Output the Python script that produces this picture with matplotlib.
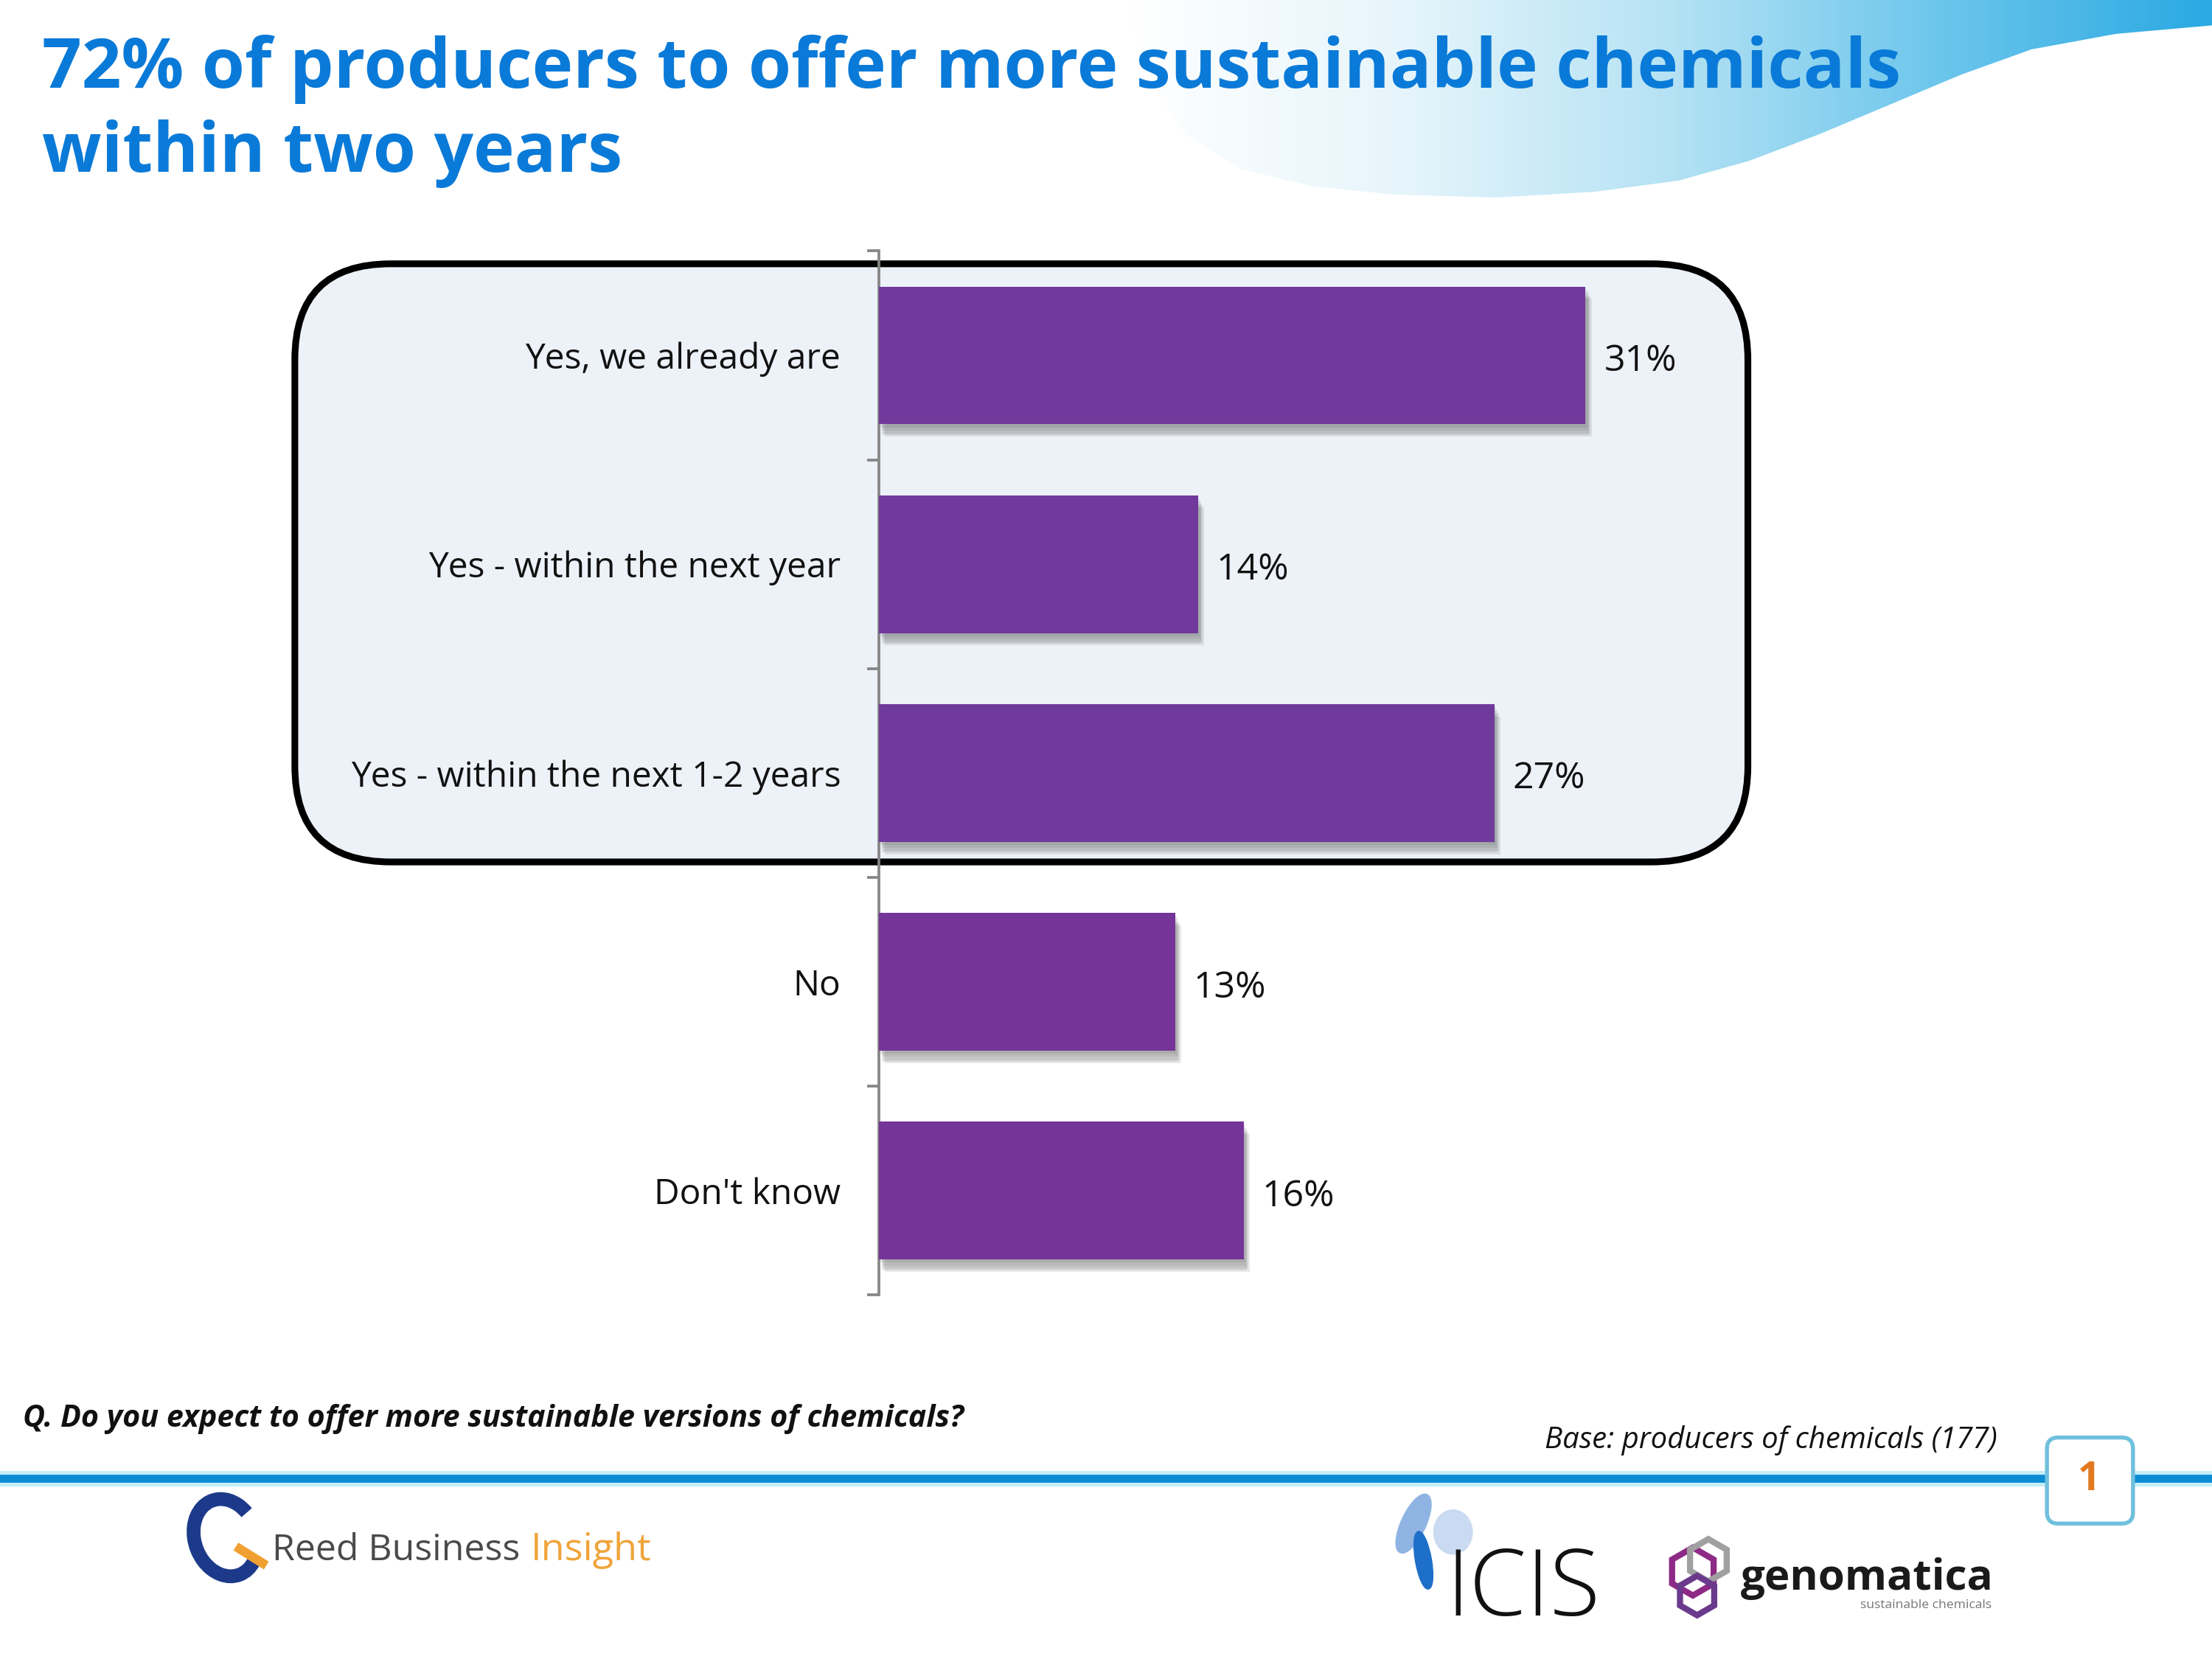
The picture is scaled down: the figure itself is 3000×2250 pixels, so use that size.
import numpy as np
import matplotlib.pyplot as plt
import matplotlib.patheffects as pe
from matplotlib.patches import FancyBboxPatch, Polygon, Ellipse, RegularPolygon, Arc
from matplotlib.colors import LinearSegmentedColormap

# survey answers (share of producers)
categories = ["Yes, we already are",
              "Yes - within the next year",
              "Yes - within the next 1-2 years",
              "No",
              "Don't know"]
percentages = [31, 14, 27, 13, 16]
bar_colors = ["#6f3a9b", "#6f3a9b", "#6f3a9b", "#743498", "#743498"]

title_lines = ["72% of producers to offer more sustainable chemicals",
               "within two years"]
question = "Q. Do you expect to offer more sustainable versions of chemicals?"
base_note = "Base: producers of chemicals (177)"
page_no = "1"

plt.rcParams['font.family'] = ['Open Sans', 'DejaVu Sans']

fig = plt.figure(figsize=(10, 7.5), dpi=300)

# slide background, drawn in slide pixel units (1568 x 1176)
bg = fig.add_axes([0, 0, 1, 1], zorder=0)
bg.axis('off')

# blue swoosh top right
sw_x = [800, 1568, 1568, 1500, 1440, 1390, 1340, 1290, 1240, 1190, 1130,
        1060, 990, 930, 880, 840, 810]
sw_y = [0, 0, 18, 24, 35, 53, 74, 95, 114, 128, 136, 140, 138, 132, 120, 95, 50]
swoosh = Polygon(np.column_stack([sw_x, sw_y]), closed=True,
                 facecolor='none', edgecolor='none')
bg.add_patch(swoosh)
grad = np.tile(np.linspace(0, 1, 400), (10, 1))
sw_cmap = LinearSegmentedColormap.from_list(
    'sw', ['#ffffff', '#e6f5fb', '#b5e2f4', '#6cc6ec', '#2aa9e3'])
im = bg.imshow(grad, extent=(800, 1568, 145, 0), cmap=sw_cmap,
               aspect='auto', zorder=1)
im.set_clip_path(swoosh)

# rounded highlight box round the three "yes" answers
box = FancyBboxPatch((209, 187), 1030, 424,
                     boxstyle='round,pad=0,rounding_size=68',
                     fc='#edf1f8', ec='black', lw=2.2, zorder=2)
bg.add_patch(box)

# title
bg.text(30, 62, title_lines[0], fontsize=22.6, fontweight='bold',
        color='#0a7ad8', va='baseline', zorder=4)
bg.text(30, 122, title_lines[1], fontsize=22.6, fontweight='bold',
        color='#0a7ad8', va='baseline', zorder=4)

# footer texts
bg.text(16, 1006, question, fontsize=9.9, fontweight='bold', style='italic',
        color='#111111', va='center', zorder=4)
bg.text(1416, 1021, base_note, fontsize=9.65, style='italic',
        color='#111111', va='center', ha='right', zorder=4)

# footer rule
bg.plot([0, 1568], [1044, 1044], color='#c4eef8', lw=1.2, zorder=3)
bg.plot([0, 1568], [1048, 1048], color='#0b8bd3', lw=2.6, zorder=3)
bg.plot([0, 1568], [1052, 1052], color='#c4eef8', lw=1.2, zorder=3)

# page number
pbox = FancyBboxPatch((1451, 1019), 61, 61,
                      boxstyle='round,pad=0,rounding_size=8',
                      fc='white', ec='#6fc0dd', lw=1.3, zorder=5)
bg.add_patch(pbox)
bg.text(1481, 1049, page_no, fontsize=13, fontweight='bold',
        color='#e2791f', ha='center', va='center', zorder=6)

# Reed Business Insight logo
bg.add_patch(Arc((160, 1090), 44, 56, angle=-20, theta1=60, theta2=330,
                 color='#1d3a8a', lw=4.5, zorder=4))
bg.plot([170, 186], [1098, 1108], color='#f0a030', lw=3, zorder=4)
bg.text(193, 1106, "Reed Business", fontsize=12, color='#4a4a4a',
        va='baseline', zorder=4)
bg.text(376, 1106, "Insight", fontsize=12.5, color='#f0a43a',
        va='baseline', zorder=4)

# ICIS logo
bg.add_patch(Ellipse((1002, 1080), 16, 44, angle=25, color='#8fb4e3', zorder=4))
bg.add_patch(Ellipse((1030, 1086), 26, 30, color='#c9daf1', zorder=4))
bg.add_patch(Ellipse((1009, 1106), 10, 40, angle=-10, color='#1e6fc8', zorder=4))
bg.text(1025, 1145, "ICIS", fontsize=30, fontweight='light', color='#111111',
        va='baseline', zorder=4)

# genomatica logo
bg.add_patch(RegularPolygon((1200, 1114), 6, radius=17, fill=False,
                            ec='#8d2a86', lw=2.0, zorder=4))
bg.add_patch(RegularPolygon((1211, 1106), 6, radius=15, fill=False,
                            ec='#a0a0a0', lw=2.0, zorder=4))
bg.add_patch(RegularPolygon((1203, 1131), 6, radius=14, fill=False,
                            ec='#6a3a8c', lw=2.0, zorder=4))
bg.text(1234, 1127, "genomatica", fontsize=14, fontweight='bold',
        color='#1a1a1a', va='baseline', zorder=4)
bg.text(1412, 1140, "sustainable chemicals", fontsize=4.2, color='#777777',
        va='baseline', ha='right', zorder=4)

bg.set_xlim(0, 1568)
bg.set_ylim(1176, 0)

# bar chart
ax = fig.add_axes([0.3973, 0.2194, 0.4123, 0.6293], zorder=3)
ax.patch.set_alpha(0)
y = np.arange(len(categories))
bars = ax.barh(y, percentages, height=0.66, color=bar_colors, zorder=3)
# soft drop shadow, built from a few faint offset copies
soft = [pe.SimplePatchShadow(offset=(dx, dy), shadow_rgbFace='#555555', alpha=0.12)
        for dx, dy in [(0.5, -1), (1, -2), (1.5, -3), (2, -4), (1, -3.5)]]
for b in bars:
    b.set_path_effects(soft + [pe.Normal()])

for yi, v in zip(y, percentages):
    ax.annotate(f"{v}%", (v, yi), xytext=(6, -2), textcoords='offset points',
                ha='left', va='center', fontsize=12, color='#111111')

ax.set_xlim(0, 40)
ax.set_ylim(len(categories) - 0.5, -0.5)
ax.set_yticks(y)
ax.set_yticklabels(categories, fontsize=11.5, color='#111111')
ax.set_yticks(np.arange(len(categories) + 1) - 0.5, minor=True)
ax.tick_params(axis='y', which='major', length=0, pad=12.4)
ax.tick_params(axis='y', which='minor', length=3.8, width=0.9,
               color='#868686')
ax.set_xticks([])
for s in ['top', 'right', 'bottom']:
    ax.spines[s].set_visible(False)
ax.spines['left'].set_color('#868686')
ax.spines['left'].set_linewidth(0.9)

fig.savefig("out.png", dpi=300)
